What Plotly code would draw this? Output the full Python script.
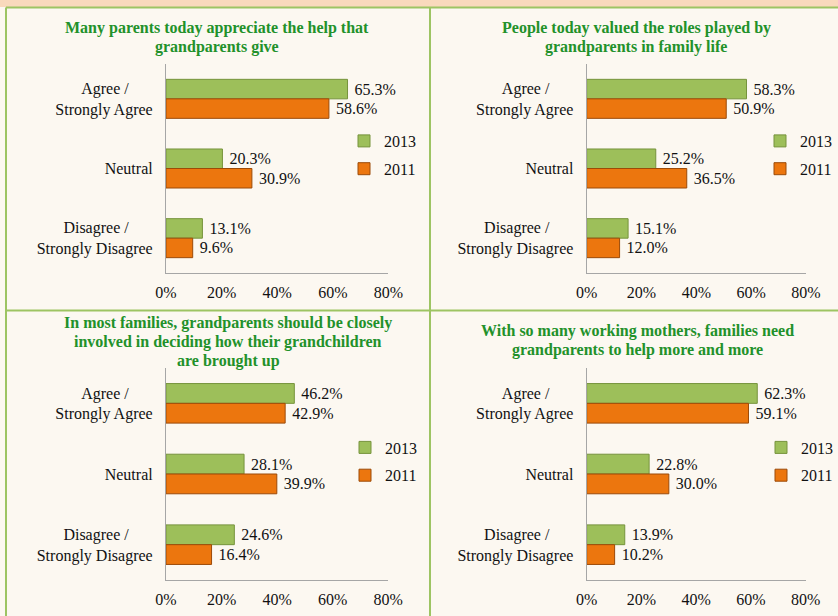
import plotly.graph_objects as go

W, H = 838, 616

# ---------------- data ----------------
category_keys = ["Agree", "Neutral", "Disagree"]
NB = "\u00a0"
category_labels = [
    "Agree /" + NB * 6 + "<br>Strongly Agree",
    "Neutral",
    "Disagree /" + NB * 6 + "<br>Strongly Disagree",
]
years = ["2013", "2011"]

titles = [
    ["Many parents today appreciate the help that", "grandparents give"],
    ["People today valued the roles played by", "grandparents in family life"],
    ["In most families, grandparents should be closely",
     "involved in deciding how their grandchildren", "are brought up"],
    ["With so many working mothers, families need", "grandparents to help more and more"],
]

p1_2013 = [65.3, 20.3, 13.1]
p1_2011 = [58.6, 30.9, 9.6]
p2_2013 = [58.3, 25.2, 15.1]
p2_2011 = [50.9, 36.5, 12.0]
p3_2013 = [46.2, 28.1, 24.6]
p3_2011 = [42.9, 39.9, 16.4]
p4_2013 = [62.3, 22.8, 13.9]
p4_2011 = [59.1, 30.0, 10.2]

panel_values = [
    (p1_2013, p1_2011),
    (p2_2013, p2_2011),
    (p3_2013, p3_2011),
    (p4_2013, p4_2011),
]

x_tickvals = [0, 20, 40, 60, 80]
x_ticktext = ["0%", "20%", "40%", "60%", "80%"]

# ---------------- styling / layout ----------------
FONT = "Liberation Serif, Times New Roman, serif"
GREEN_FILL, GREEN_LINE = "#9DBF5A", "#76933C"
ORANGE_FILL, ORANGE_LINE = "#EC760E", "#9C4A08"
TITLE_COLOR = "#22912A"
SEP = "#9DC463"


def xd(a, b):
    return [a / W, b / W]


def yd(top, bottom):
    return [1 - bottom / H, 1 - top / H]


# plot areas in pixels: (x0, x1, ytop, ybottom)
areas = [
    (166, 388.4, 64, 273),
    (586.7, 806, 64, 273),
    (166, 388.2, 368, 580),
    (586.7, 805.7, 368, 580),
]
title_pos = [(217, 37.5), (636, 37.5), (228, 342), (637, 340)]
legend_pos = [(344, 155), (760, 155), (345, 461.5), (761, 461.5)]
TITLE_LINE = 19

fig = go.Figure()
layout = {}

for i, (vals, area) in enumerate(zip(panel_values, areas)):
    n = "" if i == 0 else str(i + 1)
    leg = "legend" + n
    for yr, v, fill, line in zip(years, vals, (GREEN_FILL, ORANGE_FILL), (GREEN_LINE, ORANGE_LINE)):
        fig.add_trace(go.Bar(
            y=category_keys, x=v, orientation="h", name=yr,
            xaxis="x" + n, yaxis="y" + n,
            marker=dict(color=fill, line=dict(color=line, width=1)),
            text=[NB + f"{val:.1f}%" for val in v],
            textposition="outside", cliponaxis=False, constraintext="none",
            textfont=dict(family=FONT, size=16, color="#111111"),
            legend=leg, legendgroup=f"{i}_{yr}", showlegend=True,
            hoverinfo="x+y",
        ))
    x0, x1, yt, yb = area
    layout["xaxis" + n] = dict(
        domain=xd(x0, x1), range=[0, 80], anchor="y" + n,
        tickvals=x_tickvals, ticktext=x_ticktext, ticks="",
        showgrid=False, zeroline=False, showline=True,
        linecolor="#A6A6A6", linewidth=1.2, ticklabelstandoff=5,
        tickfont=dict(family=FONT, size=16, color="#111111"),
        fixedrange=True,
    )
    layout["yaxis" + n] = dict(
        domain=yd(yt, yb), anchor="x" + n, type="category",
        categoryorder="array", categoryarray=category_keys,
        tickvals=category_keys, ticktext=category_labels,
        autorange="reversed", ticks="",
        showgrid=False, zeroline=False, showline=True,
        linecolor="#A6A6A6", linewidth=1.2, ticklabelstandoff=9,
        tickfont=dict(family=FONT, size=16, color="#111111"),
        fixedrange=True,
    )
    lx, ly = legend_pos[i]
    layout[leg] = dict(
        x=lx / W, y=1 - ly / H, xanchor="left", yanchor="middle",
        bgcolor="rgba(0,0,0,0)", traceorder="grouped", tracegroupgap=4,
        font=dict(family=FONT, size=16, color="#111111"),
    )

annotations = []
for lines, (tx, ty) in zip(titles, title_pos):
    nl = len(lines)
    for k, t in enumerate(lines):
        yy = ty + (k - (nl - 1) / 2) * TITLE_LINE
        annotations.append(dict(
            text="<b>" + t + "</b>", x=tx / W, y=1 - yy / H, xref="paper", yref="paper",
            xanchor="center", yanchor="middle", showarrow=False, align="center",
            font=dict(family=FONT, size=16, color=TITLE_COLOR),
        ))

shapes = [
    dict(type="rect", xref="paper", yref="paper", x0=0, x1=1, y0=1 - 7 / H, y1=1,
         fillcolor="#F9D9BC", line=dict(width=0), layer="below"),
    dict(type="line", xref="paper", yref="paper", x0=6 / W, x1=1, y0=1 - 7.5 / H, y1=1 - 7.5 / H,
         line=dict(color=SEP, width=2)),
    dict(type="line", xref="paper", yref="paper", x0=6 / W, x1=6 / W, y0=0, y1=1 - 7.5 / H,
         line=dict(color=SEP, width=2)),
    dict(type="line", xref="paper", yref="paper", x0=430 / W, x1=430 / W, y0=0, y1=1 - 7.5 / H,
         line=dict(color=SEP, width=2)),
    dict(type="line", xref="paper", yref="paper", x0=6 / W, x1=1, y0=1 - 310.5 / H, y1=1 - 310.5 / H,
         line=dict(color=SEP, width=2)),
]

fig.update_layout(
    width=W, height=H,
    margin=dict(l=0, r=0, t=0, b=0, autoexpand=False),
    paper_bgcolor="#FCF8F1", plot_bgcolor="rgba(0,0,0,0)",
    barmode="group", bargap=0.44, bargroupgap=0,
    annotations=annotations, shapes=shapes,
    font=dict(family=FONT, size=16, color="#111111"),
    **layout,
)

fig.write_html(
    "out.html",
    config={"displayModeBar": False},
    post_script="document.body.style.margin='0';document.body.style.overflow='hidden';",
)
